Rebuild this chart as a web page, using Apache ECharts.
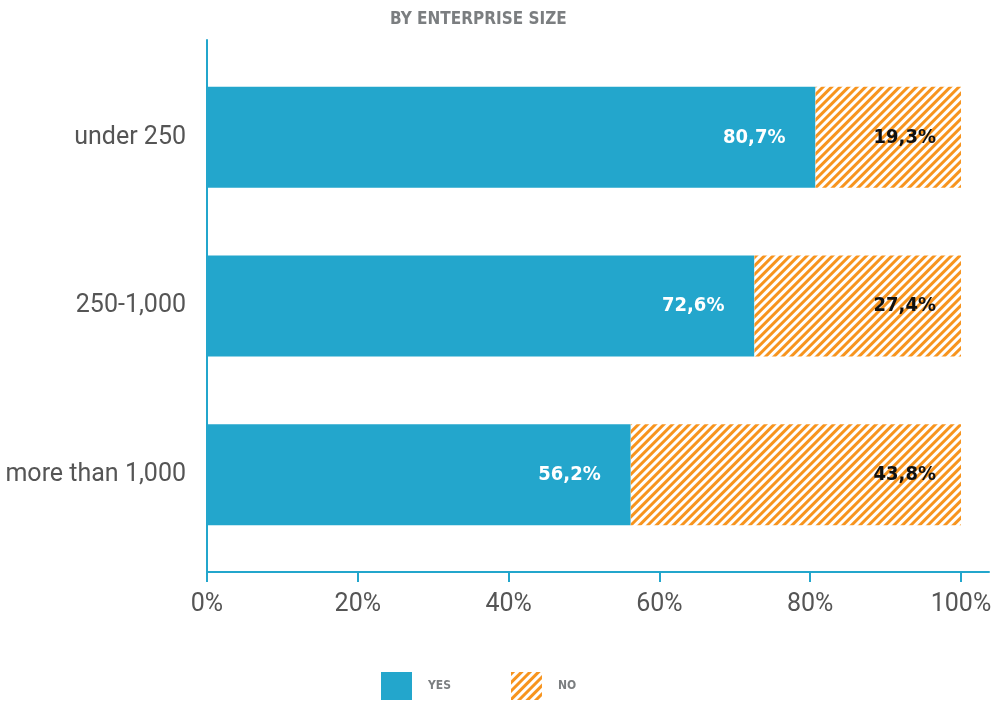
<!DOCTYPE html>
<html>
<head>
<meta charset="utf-8">
<script src="https://cdn.jsdelivr.net/npm/echarts@6/dist/echarts.min.js"></script>
<style>
  html, body { margin: 0; padding: 0; background: #fff; }
  #chart { width: 995px; height: 702px; }
</style>
</head>
<body>
<div id="chart"></div>
<script>
// data
var categories = ['under 250', '250-1,000', 'more than 1,000']
var yesValues = [80.7, 72.6, 56.2]
var noValues = [19.3, 27.4, 43.8]
var seriesNames = ['YES', 'NO']
var xTicks = [0, 20, 40, 60, 80, 100]

var blue = '#23a6cc'
var orange = '#f7941e'
var condensed = "'Liberation Sans Narrow', 'DejaVu Sans Condensed', 'Roboto Condensed', sans-serif"

function pct (p) {
  return String(p.value.toFixed(1)).replace('.', ',') + '%'
}

var chart = echarts.init(document.getElementById('chart'))

var option = {
  animation: false,
  title: {
    text: 'BY ENTERPRISE SIZE',
    left: 385,
    top: 6,
    textStyle: {
      fontFamily: condensed,
      fontWeight: 'bold',
      fontSize: 17,
      color: '#7b7e80'
    }
  },
  legend: {
    data: seriesNames,
    bottom: 2,
    left: 381,
    padding: 0,
    itemWidth: 31,
    itemHeight: 28,
    itemGap: 60,
    icon: 'rect',
    textStyle: {
      fontFamily: condensed,
      fontWeight: 'bold',
      fontSize: 12,
      color: '#7b7e80',
      padding: [0, 0, 0, 11]
    }
  },
  grid: [
    // bars
    { left: 207, top: 53, width: 754, height: 506 },
    // axis lines only
    { left: 207, top: 40, width: 782, height: 532 }
  ],
  xAxis: [
    {
      gridIndex: 0,
      type: 'value',
      min: xTicks[0],
      max: xTicks[xTicks.length - 1],
      interval: 20,
      offset: 13,
      axisLine: { show: false },
      axisTick: { show: true, length: 10, lineStyle: { color: blue, width: 2 } },
      splitLine: { show: false },
      axisLabel: {
        margin: 20,
        fontFamily: 'Roboto',
        fontSize: 25,
        color: '#555',
        formatter: function (v) { return v + '%' }
      }
    },
    {
      gridIndex: 1,
      type: 'value',
      axisLine: { show: true, lineStyle: { color: blue, width: 2 } },
      axisTick: { show: false },
      axisLabel: { show: false },
      splitLine: { show: false }
    }
  ],
  yAxis: [
    {
      gridIndex: 0,
      type: 'category',
      inverse: true,
      data: categories,
      axisLine: { show: false },
      axisTick: { show: false },
      axisLabel: {
        margin: 21,
        fontFamily: 'Roboto',
        fontSize: 25,
        color: '#555'
      }
    },
    {
      gridIndex: 1,
      type: 'value',
      axisLine: { show: true, lineStyle: { color: blue, width: 2 } },
      axisTick: { show: false },
      axisLabel: { show: false },
      splitLine: { show: false }
    }
  ],
  series: [
    {
      name: seriesNames[0],
      type: 'bar',
      stack: 'total',
      xAxisIndex: 0,
      yAxisIndex: 0,
      barWidth: 101,
      data: yesValues,
      itemStyle: { color: blue },
      label: {
        show: true,
        position: 'insideRight',
        distance: 30,
        formatter: pct,
        fontFamily: condensed,
        fontWeight: 'bold',
        fontSize: 20,
        color: '#fff'
      }
    },
    {
      name: seriesNames[1],
      type: 'bar',
      stack: 'total',
      xAxisIndex: 0,
      yAxisIndex: 0,
      barWidth: 101,
      data: noValues,
      itemStyle: {
        color: '#fff',
        decal: {
          symbol: 'rect',
          color: orange,
          dashArrayX: [1, 0],
          dashArrayY: [3, 3],
          rotation: -Math.PI / 4,
          symbolSize: 1
        }
      },
      label: {
        show: true,
        position: 'insideRight',
        distance: 25,
        formatter: pct,
        fontFamily: condensed,
        fontWeight: 'bold',
        fontSize: 20,
        color: '#111'
      }
    }
  ]
}

chart.setOption(option)
</script>
</body>
</html>
